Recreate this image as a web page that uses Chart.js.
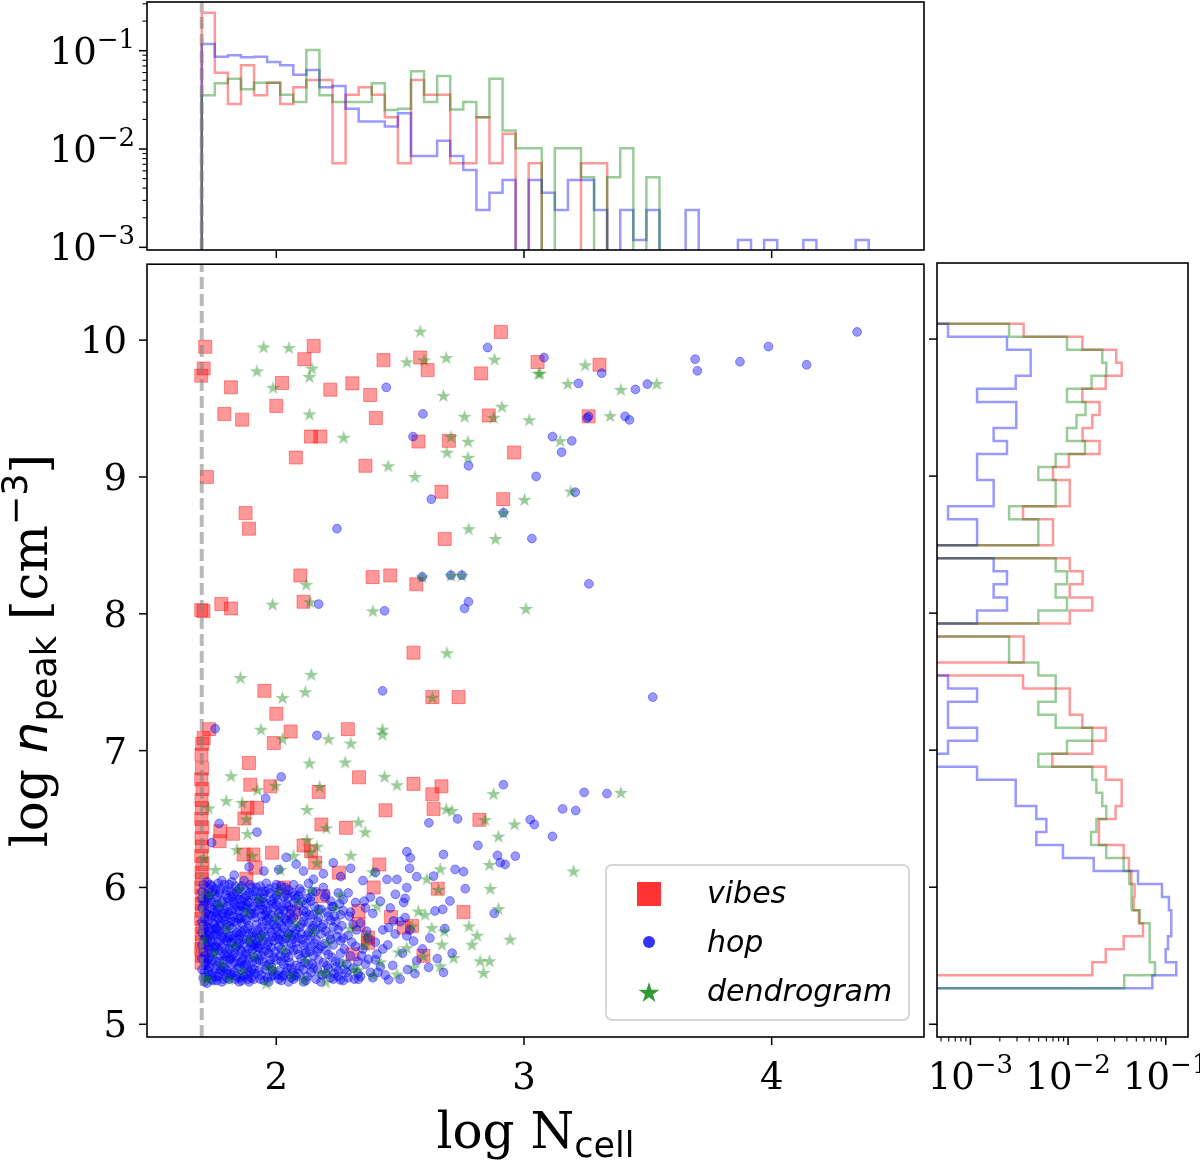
<!DOCTYPE html>
<html>
<head>
<meta charset="utf-8">
<script src="https://cdn.jsdelivr.net/npm/chart.js@4.4.1/dist/chart.umd.min.js"></script>
<style>
  body { margin: 0; background: #fff; }
  #wrap { position: relative; width: 1200px; height: 1160px; overflow: hidden; }
  canvas { position: absolute; }
</style>
</head>
<body>
<div id="wrap">
  <canvas id="topHist" width="935" height="262" style="left:0;top:0"></canvas>
  <canvas id="main" width="935" height="906" style="left:0;top:254px"></canvas>
  <canvas id="sideHist" width="272" height="906" style="left:928px;top:254px"></canvas>
</div>
<script>
/* ticks */
const xTicks = [2, 3, 4];
const yTicks = [5, 6, 7, 8, 9, 10];
const LOG_NMIN = 1.699; // log10(50), dashed line + first histogram edge

/* histogram bins */
const xBinStart = 1.699, xBinWidth = 0.0528;   // top panel, 51 bins
const yBinStart = 5.262, yBinWidth = 0.0951;   // side panel, 51 bins (from bottom)

/* top histogram heights (fraction per bin) */
const topVibes = [0.244, 0.0597, 0.0287, 0.071, 0.0352, 0.0473, 0.0287, 0.0424, 0.0503, 0.0503,
  0.00715, 0.0357, 0.0424, 0.0357, 0.021, 0.00715, 0.0503, 0.0357, 0.0357, 0.00715,
  0.00715, 0.021, 0.00715, 0.0143, 0, 0.00715, 0, 0, 0, 0.00715,
  0.00715, 0, 0, 0, 0, 0, 0, 0, 0, 0, 0, 0, 0, 0, 0, 0, 0, 0, 0, 0, 0];
const topHop = [0.117, 0.0869, 0.0897, 0.0856, 0.0869, 0.0767, 0.071, 0.057, 0.0637, 0.0424,
  0.0437, 0.0257, 0.0191, 0.0191, 0.0169, 0.0231, 0.0085, 0.0085, 0.0121, 0.0085,
  0.0061, 0.00239, 0.0036, 0.00484, 0, 0.00484, 0.0036, 0.00239, 0.00484, 0.00484,
  0.00239, 0, 0.00239, 0.00119, 0.00239, 0, 0, 0.00239, 0, 0,
  0, 0.00119, 0, 0.00119, 0, 0, 0.00119, 0, 0, 0, 0.00119];
const topDendro = [0.0352, 0.0467, 0.0519, 0.0405, 0.0473, 0.0473, 0.0357, 0.0301, 0.1017, 0.0352,
  0.0301, 0.0301, 0.0301, 0.0467, 0.0249, 0.0257, 0.0617, 0.0301, 0.0553, 0.0253,
  0.0301, 0.021, 0.0519, 0.0154, 0.0102, 0.0102, 0, 0.0102, 0.0102, 0.00515,
  0, 0.00515, 0.0102, 0, 0.00515, 0, 0, 0, 0, 0, 0, 0, 0, 0, 0, 0, 0, 0, 0, 0, 0];

/* side histogram heights, bottom bin first */
const sideVibes = [0, 0.0177, 0.0243, 0.0371, 0.0585, 0.0531, 0.0469, 0.048, 0.0444, 0.042,
  0.0371, 0.0207, 0.0207, 0.0307, 0.0354, 0.0354, 0.0243, 0.0069, 0.0177, 0.0243,
  0.014, 0.0104, 0.0104, 0.00346, 0, 0.00351, 0.00351, 0, 0.0104, 0.0177,
  0.0104, 0.0141, 0.0104, 0, 0.00701, 0.00701, 0.00346, 0.0104, 0.0104, 0.00701,
  0.0102, 0.021, 0.0141, 0.0177, 0.021, 0.014, 0.0243, 0.0354, 0.0311, 0.014, 0.00351];
const sideHop = [0.0729, 0.128, 0.0998, 0.1054, 0.114, 0.114, 0.1078, 0.0915, 0.052, 0.0183,
  0.00887, 0.00473, 0.00599, 0.00473, 0.00291, 0.00291, 0.00117, 0, 0.00059, 0.00117,
  0.00059, 0.00059, 0.00117, 0.00059, 0, 0, 0, 0, 0.00117, 0.00237,
  0.00173, 0.00237, 0.00173, 0, 0.00117, 0.00117, 0.00059, 0.00173, 0.00173, 0.00117,
  0.00117, 0.00237, 0.00173, 0.00295, 0.00295, 0.00117, 0.00291, 0.00414, 0.00414, 0.00237, 0.00059];
const sideDendro = [0.0376, 0.0776, 0.0684, 0.0684, 0.0684, 0.0541, 0.0441, 0.045, 0.0424, 0.0371,
  0.0246, 0.0172, 0.0195, 0.0246, 0.0224, 0.0195, 0.0177, 0.00496, 0.00975, 0.0177,
  0.00746, 0.00496, 0.00746, 0.00746, 0.00496, 0.00249, 0.00249, 0, 0.00496, 0.00975,
  0.00746, 0.00975, 0.00746, 0, 0.00496, 0.00496, 0.00249, 0.00746, 0.00746, 0.00496,
  0.00746, 0.0149, 0.00975, 0.0122, 0.0151, 0.00975, 0.0174, 0.0246, 0.0224, 0.00975, 0.00249];

/* scatter: [log Ncell, log npeak] */
const vibesPts = [
  [1.713,9.951],[1.707,9.793],[1.697,9.74],[2.151,9.958],[2.113,9.861],[2.433,9.854],[2.581,9.873],[2.611,9.781],
  [2.907,10.06],[2.827,9.757],[3.055,9.84],[3.305,9.82],[1.817,9.655],[2.023,9.687],[2.218,9.638],[2.307,9.684],
  [2.379,9.599],[1.79,9.46],[1.862,9.419],[2.0,9.519],[2.402,9.431],[2.858,9.45],[2.14,9.295],[2.178,9.295],
  [2.574,9.259],[2.697,9.264],[2.96,9.179],[2.079,9.142],[2.36,9.082],[1.72,8.999],[2.667,8.892],[2.916,8.838],
  [1.876,8.736],[1.89,8.622],[2.68,8.547],[2.097,8.28],[2.389,8.268],[2.46,8.28],[2.565,8.216],[1.778,8.071],
  [1.817,8.039],[1.697,8.027],[1.706,8.02],[2.11,8.088],[2.554,7.716],[3.261,9.443],
  [1.952,7.437],[2.63,7.391],[2.736,7.391],[2.0,7.269],[2.058,7.14],[1.99,7.055],[2.289,7.157],[1.729,7.157],
  [1.707,7.092],[1.89,6.91],[2.334,6.805],[1.895,6.751],[1.976,6.739],[2.171,6.698],[2.554,6.757],[2.63,6.681],
  [2.667,6.739],[1.884,6.582],[1.922,6.582],[2.441,6.564],[2.635,6.574],[2.82,6.494],[1.871,6.504],[2.182,6.46],
  [2.281,6.436],[1.774,6.411],[1.825,6.392],[1.771,6.338],[1.868,6.241],[1.908,6.241],[1.983,6.254],[2.11,6.307],
  [2.14,6.265],[2.157,6.181],[1.916,6.144],[2.253,6.108],[2.416,6.168],[1.879,6.064],[2.393,6.0],[2.652,5.991],
  [2.188,5.937],[2.756,5.82],[2.332,5.828],[2.07,5.816],[2.463,5.784],[2.332,5.731],[2.514,5.707],[2.548,5.719],
  [2.37,5.634],[2.37,5.595],[2.307,5.512],[2.594,5.5],[2.03,6.0],
  [1.698,5.45],[1.701,5.50],[1.697,5.55],[1.700,5.60],[1.698,5.66],[1.702,5.71],[1.697,5.77],[1.700,5.83],
  [1.698,5.88],[1.701,5.94],[1.697,6.00],[1.700,6.06],[1.698,6.11],[1.702,6.17],[1.697,6.23],[1.700,6.30],
  [1.698,6.36],[1.701,6.44],[1.697,6.50],[1.700,6.58],[1.698,6.64],[1.702,6.72],[1.697,6.79],[1.700,6.87],
  [1.698,6.97],[1.701,7.05]
];

const hopPts = [
  [2.853,9.946],[2.444,9.655],[2.592,9.461],[2.552,9.295],[2.776,9.082],[3.049,9.004],[2.626,8.838],[2.245,8.622],
  [3.032,8.55],[2.917,8.739],[2.171,8.071],[2.437,8.022],[2.776,8.088],[2.76,8.039],[2.589,8.27],[2.705,8.282],
  [2.749,8.282],[3.081,9.873],[3.314,9.759],[3.22,9.684],[3.45,9.64],[3.498,9.679],[3.691,9.861],[3.7,9.776],
  [3.872,9.842],[3.987,9.953],[4.141,9.82],[4.345,10.06],[3.261,9.443],[3.255,9.43],[3.408,9.443],[3.426,9.417],
  [3.115,9.295],[3.193,9.264],[3.152,9.181],[3.207,8.889],[3.262,8.219],
  [2.429,7.437],[2.917,6.751],[2.02,6.808],[1.957,6.652],[1.753,7.16],[2.164,7.111],[1.769,6.467],[1.922,6.404],
  [1.739,6.327],[2.616,6.472],[2.732,6.501],[3.025,6.496],[3.042,6.46],[2.814,6.307],[2.965,6.229],[2.893,6.234],
  [2.904,6.181],[2.924,6.168],[2.675,6.241],[2.527,6.261],[2.541,6.217],[2.756,6.115],[2.722,6.132],[2.635,6.083],
  [2.763,5.991],[2.701,5.901],[2.672,5.84],[2.641,5.828],[2.88,5.811],[2.567,6.079],[2.538,6.14],[2.487,6.059],
  [2.447,6.059],[2.481,5.95],[2.527,5.999],[2.514,5.89],[2.52,5.78],[2.473,5.755],[2.453,5.707],[2.406,5.512],
  [2.372,5.476],[2.453,5.325],[2.41,5.379],[2.332,5.33],[2.285,5.379],[2.258,5.325],[2.554,5.608],[2.527,5.646],
  [2.567,5.464],[2.615,5.416],[2.675,5.379],
  [3.52,7.391],[3.243,6.695],[3.335,6.686],[3.156,6.574],[3.209,6.562],[3.115,6.373]
];

const hopCore = [
  [1.71,5.31],[1.73,5.36],[1.70,5.40],[1.74,5.33],[1.72,5.45],[1.75,5.41],[1.71,5.50],[1.73,5.55],[1.70,5.58],[1.74,5.52],
  [1.72,5.62],[1.75,5.66],[1.71,5.70],[1.73,5.68],[1.70,5.75],[1.74,5.79],[1.72,5.83],[1.75,5.87],[1.71,5.90],[1.73,5.94],
  [1.70,5.97],[1.74,6.01],[1.72,6.04],[1.71,5.38],[1.74,5.47],[1.72,5.57],[1.75,5.73],[1.70,5.85],[1.73,5.80],[1.71,5.63],
  [1.75,5.35],[1.72,5.91],[1.74,5.60],[1.70,5.48],[1.73,5.42],[1.75,5.95],[1.71,5.77],[1.72,5.30],[1.74,5.89],[1.70,5.67],
  [1.73,5.99],[1.75,5.53],[1.71,5.44],[1.72,5.71],[1.74,5.37],[1.70,5.92],[1.73,5.65],[1.75,5.82],
  [1.76,5.32],[1.78,5.39],[1.80,5.34],[1.77,5.46],[1.79,5.51],[1.76,5.56],[1.80,5.61],[1.78,5.64],[1.77,5.72],[1.79,5.76],
  [1.76,5.81],[1.80,5.86],[1.78,5.90],[1.77,5.96],[1.79,6.02],[1.76,5.43],[1.80,5.49],[1.78,5.57],[1.77,5.68],[1.79,5.84],
  [1.76,5.93],[1.80,5.73],[1.78,5.31],[1.77,5.37],[1.79,5.41],[1.76,5.66],[1.80,5.98],[1.78,5.78],[1.77,5.54],[1.79,5.63],
  [1.76,5.88],[1.80,5.40],[1.78,6.05],[1.77,5.85],[1.79,5.47],[1.76,5.70],
  [1.81,5.33],[1.83,5.38],[1.85,5.31],[1.82,5.44],[1.84,5.49],[1.81,5.55],[1.85,5.59],[1.83,5.63],[1.82,5.70],[1.84,5.74],
  [1.81,5.80],[1.85,5.83],[1.83,5.88],[1.82,5.93],[1.84,5.97],[1.81,6.02],[1.85,5.42],[1.83,5.52],[1.82,5.60],[1.84,5.67],
  [1.81,5.72],[1.85,5.77],[1.83,5.95],[1.82,5.36],[1.84,5.86],[1.81,5.47],[1.85,5.65],[1.83,5.75],[1.82,5.83],[1.84,5.35],
  [1.81,5.90],[1.85,5.99],[1.83,5.45],[1.82,6.04],[1.84,5.57],[1.81,5.64],[1.85,5.91],
  [1.86,5.32],[1.88,5.37],[1.90,5.34],[1.87,5.43],[1.89,5.48],[1.86,5.53],[1.90,5.57],[1.88,5.62],[1.87,5.69],[1.89,5.72],
  [1.86,5.78],[1.90,5.84],[1.88,5.87],[1.87,5.92],[1.89,5.96],[1.86,6.01],[1.90,5.40],[1.88,5.51],[1.87,5.59],[1.89,5.66],
  [1.86,5.74],[1.90,5.80],[1.88,5.94],[1.87,5.35],[1.89,5.89],[1.86,5.46],[1.90,5.64],[1.88,5.76],[1.87,5.82],[1.89,5.31],
  [1.86,5.91],[1.90,6.00],[1.88,5.44],[1.87,6.05],[1.89,5.55],[1.86,5.67],
  [1.91,5.33],[1.93,5.39],[1.95,5.32],[1.92,5.45],[1.94,5.50],[1.96,5.54],[1.91,5.58],[1.93,5.63],[1.95,5.68],[1.92,5.73],
  [1.94,5.79],[1.96,5.82],[1.91,5.86],[1.93,5.91],[1.95,5.95],[1.92,6.00],[1.94,5.36],[1.96,5.43],[1.91,5.49],[1.93,5.56],
  [1.95,5.61],[1.92,5.66],[1.94,5.71],[1.96,5.76],[1.91,5.81],[1.93,5.84],[1.95,5.89],[1.92,5.93],[1.94,5.97],[1.96,6.03],
  [1.91,5.40],[1.93,5.47],[1.95,5.53],[1.92,5.59],[1.94,5.65],[1.96,5.88],
  [1.97,5.31],[1.99,5.36],[2.01,5.33],[1.98,5.42],[2.00,5.47],[1.97,5.52],[2.01,5.57],[1.99,5.61],[1.98,5.67],[2.00,5.71],
  [1.97,5.77],[2.01,5.81],[1.99,5.85],[1.98,5.90],[2.00,5.94],[1.97,5.99],[2.01,5.39],[1.99,5.49],[1.98,5.56],[2.00,5.64],
  [1.97,5.70],[2.01,5.75],[1.99,5.92],[1.98,5.35],[2.00,5.87],[1.97,5.44],[2.01,5.62],[1.99,5.73],[1.98,5.80],[2.00,6.02],
  [1.97,5.60],[2.01,5.97],
  [2.02,5.32],[2.04,5.38],[2.06,5.34],[2.03,5.44],[2.05,5.49],[2.02,5.55],[2.06,5.59],[2.04,5.63],[2.03,5.70],[2.05,5.74],
  [2.02,5.79],[2.06,5.84],[2.04,5.88],[2.03,5.93],[2.05,5.98],[2.02,6.01],[2.06,5.41],[2.04,5.52],[2.03,5.60],[2.05,5.66],
  [2.02,5.72],[2.06,5.77],[2.04,5.95],[2.03,5.36],[2.05,5.86],[2.02,5.46],[2.06,5.65],[2.04,5.76],[2.03,5.83],[2.05,5.31],
  [2.07,5.33],[2.09,5.37],[2.11,5.31],[2.08,5.43],[2.10,5.48],[2.07,5.54],[2.11,5.58],[2.09,5.63],[2.08,5.69],[2.10,5.73],
  [2.07,5.78],[2.11,5.83],[2.09,5.87],[2.08,5.92],[2.10,5.97],[2.07,6.02],[2.11,5.40],[2.09,5.51],[2.08,5.60],[2.10,5.66],
  [2.07,5.89],[2.11,5.75],[2.09,5.94],[2.08,5.35],
  [2.12,5.32],[2.14,5.38],[2.16,5.33],[2.13,5.44],[2.15,5.50],[2.17,5.55],[2.12,5.59],[2.14,5.64],[2.16,5.69],[2.13,5.74],
  [2.15,5.80],[2.17,5.84],[2.12,5.88],[2.14,5.93],[2.16,5.97],[2.13,6.03],[2.15,5.41],[2.17,5.47],[2.12,5.52],[2.14,5.57],
  [2.16,5.62],[2.13,5.67],[2.15,5.72],[2.17,5.78],[2.12,5.82],[2.14,5.90],
  [2.18,5.31],[2.20,5.37],[2.22,5.34],[2.19,5.45],[2.21,5.51],[2.18,5.57],[2.22,5.62],[2.20,5.68],[2.19,5.73],[2.21,5.79],
  [2.18,5.84],[2.22,5.90],[2.20,5.95],[2.19,6.00],[2.21,5.41],[2.18,5.66],[2.22,5.76],[2.20,5.54],
  [2.23,5.33],[2.25,5.39],[2.27,5.32],[2.24,5.46],[2.26,5.52],[2.23,5.58],[2.27,5.63],[2.25,5.69],[2.24,5.75],[2.26,5.80],
  [2.23,5.86],[2.27,5.91],[2.25,5.96],[2.24,5.42],[2.26,5.61],[2.23,5.71],[2.27,5.83],[2.25,5.35],
  [2.29,5.34],[2.31,5.41],[2.33,5.37],[2.30,5.50],[2.32,5.57],[2.29,5.65],[2.31,5.73],[2.30,5.82],[2.32,5.89],[2.29,5.96],
  [2.33,5.46],[2.34,5.35],[2.36,5.44],[2.38,5.38],[2.35,5.55],[2.37,5.63],[2.34,5.74],[2.36,5.85],[2.38,5.93],
  [2.39,5.34],[2.42,5.42],[2.40,5.60],[2.43,5.69],[2.39,5.81],[2.42,5.90],[2.40,5.47],[2.43,5.55],
  [2.44,5.36],[2.47,5.43],[2.45,5.58],[2.48,5.66],[2.46,5.85],[2.50,5.33],[2.53,5.40],[2.51,5.52],[2.54,5.69],[2.50,5.75],
  [2.52,5.92],[2.56,5.37],[2.59,5.55],[2.62,5.63],[2.65,5.48],[2.68,5.70],[2.71,5.52],
  [2.04,6.22],[2.08,6.17],[2.11,6.12],[2.01,6.13],[2.19,6.10],[2.26,6.08],[1.89,6.15],[1.95,6.12],[2.15,6.06],[2.35,6.05],
  [2.40,6.11],[2.30,6.14],[1.83,6.09],[2.23,6.18]
];

const hopCore2 = [
  [1.705,5.34],[1.725,5.39],[1.745,5.32],[1.715,5.43],[1.735,5.49],[1.755,5.46],[1.705,5.53],[1.725,5.59],[1.745,5.56],[1.715,5.64],
  [1.735,5.61],[1.755,5.70],[1.705,5.72],[1.725,5.76],[1.745,5.74],[1.715,5.81],[1.735,5.85],[1.755,5.79],[1.705,5.88],[1.725,5.92],
  [1.745,5.97],[1.715,5.95],[1.735,6.02],[1.755,5.99],[1.705,6.02],[1.725,5.48],[1.745,5.65],[1.715,5.35],[1.735,5.70],[1.755,5.57],
  [1.765,5.35],[1.785,5.42],[1.805,5.37],[1.775,5.50],[1.795,5.55],[1.765,5.60],[1.785,5.67],[1.805,5.63],[1.775,5.74],[1.795,5.79],
  [1.765,5.84],[1.785,5.89],[1.805,5.92],[1.775,5.99],[1.795,5.95],[1.765,6.03],[1.785,5.33],[1.805,5.52],[1.775,5.40],[1.795,5.69],
  [1.765,5.77],[1.785,5.81],[1.805,5.82],[1.775,5.61],
  [1.815,5.37],[1.835,5.33],[1.855,5.45],[1.825,5.50],[1.845,5.41],[1.815,5.59],[1.835,5.56],[1.855,5.68],[1.825,5.65],[1.845,5.78],
  [1.815,5.75],[1.835,5.84],[1.855,5.87],[1.825,5.90],[1.845,5.94],[1.815,5.97],[1.835,6.01],[1.855,5.55],[1.825,5.79],[1.845,5.62],
  [1.815,5.48],[1.855,5.34],
  [1.865,5.36],[1.885,5.41],[1.905,5.46],[1.875,5.52],[1.895,5.60],[1.865,5.62],[1.885,5.70],[1.905,5.67],[1.875,5.77],[1.895,5.81],
  [1.865,5.86],[1.885,5.90],[1.905,5.94],[1.875,5.98],[1.895,6.02],[1.865,5.48],[1.885,5.33],[1.905,5.55],[1.875,5.85],[1.895,5.38],
  [1.915,5.37],[1.935,5.33],[1.955,5.40],[1.925,5.51],[1.945,5.46],[1.915,5.62],[1.935,5.58],[1.955,5.64],[1.925,5.69],[1.945,5.75],
  [1.915,5.78],[1.935,5.87],[1.955,5.80],[1.925,5.89],[1.945,5.92],[1.915,5.97],[1.935,6.01],[1.955,5.97],[1.925,5.56],[1.945,5.84],
  [1.965,5.34],[1.985,5.39],[2.005,5.36],[1.975,5.47],[1.995,5.53],[2.015,5.50],[1.965,5.58],[1.985,5.64],[2.005,5.68],[1.975,5.73],
  [1.995,5.78],[2.015,5.84],[1.965,5.83],[1.985,5.88],[2.005,5.91],[1.975,5.96],[1.995,6.00],[2.015,5.66],
  [2.025,5.35],[2.045,5.41],[2.065,5.38],[2.035,5.49],[2.055,5.55],[2.025,5.62],[2.045,5.67],[2.065,5.71],[2.035,5.77],[2.055,5.81],
  [2.025,5.86],[2.045,5.92],[2.065,5.96],[2.035,6.00],[2.055,5.45],[2.065,5.62],
  [2.075,5.36],[2.095,5.42],[2.115,5.45],[2.085,5.55],[2.105,5.62],[2.075,5.66],[2.095,5.71],[2.115,5.79],[2.085,5.82],[2.105,5.90],
  [2.075,5.94],[2.095,5.99],[2.115,5.52],
  [2.125,5.35],[2.145,5.44],[2.165,5.40],[2.135,5.53],[2.155,5.59],[2.125,5.65],[2.145,5.70],[2.165,5.75],[2.135,5.80],[2.155,5.86],
  [2.125,5.92],[2.145,5.97],[2.165,5.53],
  [2.185,5.36],[2.205,5.43],[2.225,5.49],[2.195,5.59],[2.215,5.65],[2.185,5.71],[2.205,5.82],[2.225,5.86],[2.195,5.93],
  [2.235,5.37],[2.255,5.45],[2.275,5.55],[2.245,5.64],[2.265,5.72],[2.235,5.79],[2.255,5.88],[2.275,5.40],
  [2.285,5.44],[2.305,5.60],[2.325,5.69],[2.295,5.79],[2.315,5.33],[2.345,5.50],[2.365,5.68],[2.355,5.90]
];

const dendroPts = [
  [1.949,9.951],[2.051,9.946],[1.922,9.776],[2.144,9.796],[2.134,9.735],[1.987,9.655],[2.581,10.066],[2.527,9.842],
  [2.597,9.856],[2.686,9.873],[2.881,9.861],[3.059,9.757],[2.134,9.461],[2.675,9.596],[2.911,9.516],[2.76,9.443],
  [2.877,9.436],[3.021,9.419],[2.272,9.29],[2.705,9.295],[2.774,9.261],[2.689,9.181],[2.774,9.144],[2.452,9.082],
  [2.56,9.004],[3.002,8.836],[2.917,8.739],[2.777,8.622],[2.885,8.55],[2.589,8.27],[2.705,8.282],[2.749,8.282],
  [2.121,8.216],[1.985,8.071],[2.137,8.088],[2.39,8.022],[3.008,8.039],[2.689,7.716],
  [3.065,9.759],[3.247,9.82],[3.177,9.684],[3.391,9.64],[3.536,9.684],[3.348,9.448],[3.146,9.266],[3.189,8.897],
  [1.855,7.534],[2.141,7.558],[2.117,7.431],[2.025,7.388],[2.63,7.39],[1.938,7.157],[2.025,7.087],[2.429,7.157],
  [2.429,7.12],[2.211,7.087],[2.301,7.055],[2.134,6.91],[2.278,6.917],[1.817,6.817],[1.996,6.747],[2.175,6.739],
  [2.437,6.812],[2.487,6.751],[1.924,6.715],[1.798,6.635],[1.862,6.622],[1.727,6.582],[2.124,6.57],[1.879,6.501],
  [2.686,6.574],[2.709,6.562],[2.877,6.686],[2.843,6.496],[2.962,6.465],[2.332,6.48],[2.359,6.407],[2.202,6.436],
  [1.884,6.394],[2.897,6.375],[2.124,6.35],[2.164,6.302],[1.841,6.278],[2.07,6.234],[2.301,6.236],[2.137,6.261],
  [1.902,6.234],[1.707,6.217],[2.164,6.181],[2.016,6.132],[2.861,6.168],[2.662,6.137],[2.39,6.115],[2.608,6.064],
  [1.754,6.132],[2.864,5.993],[2.655,5.986],[2.897,5.846],[2.574,5.828],[2.601,5.804],[2.406,5.864],[2.548,5.719],
  [2.778,5.719],[2.811,5.651],[2.628,5.707],[2.678,5.682],[2.944,5.622],[2.366,5.646],[2.669,5.585],[2.79,5.585],
  [2.527,5.561],[2.494,5.529],[2.716,5.488],[2.861,5.464],[2.823,5.464],[2.662,5.427],[2.554,5.416],[2.837,5.379],
  [2.42,5.457],[2.487,5.367],[2.594,5.5],[2.312,5.403],[2.205,5.379],[1.989,5.403],[1.72,5.33],
  [3.391,6.695],[3.2,6.12]
];

const dendroCore = [
  [1.72,5.34],[1.75,5.52],[1.78,5.44],[1.80,5.70],[1.83,5.58],[1.86,5.39],[1.88,5.82],[1.91,5.50],[1.94,5.64],[1.97,5.42],
  [2.00,5.78],[2.03,5.55],[2.06,5.36],[2.09,5.90],[2.12,5.47],[2.15,5.68],[2.18,5.38],[2.21,5.60],[2.24,5.85],[2.27,5.45],
  [2.30,5.70],[2.33,5.40],[2.36,5.58],[1.73,5.95],[1.77,5.88],[1.85,5.99],[1.93,5.92],[2.01,5.97],[2.08,5.74],[2.17,5.83],
  [2.26,5.95],[1.71,5.62],[1.81,5.33],[1.96,5.30],[2.11,5.33],[2.20,5.31],[2.39,5.36],[1.89,5.62],[2.05,5.65],[2.14,5.98]
];

/* axis ranges */
const X_MIN = 1.478, X_MAX = 4.615, Y_MIN = 4.907, Y_MAX = 10.555;
const TOP_MIN = 9.39e-4, TOP_MAX = 0.313, SIDE_MIN = 4.55e-4, SIDE_MAX = 0.169;

const SERIF = '"DejaVu Serif", "Liberation Serif", serif';
const SANS = '"DejaVu Sans", "Liberation Sans", sans-serif';
const RED = 'rgba(255,0,0,0.4)', BLUE = 'rgba(0,0,255,0.4)', GREEN = 'rgba(0,128,0,0.4)';
const CUT = 'rgba(128,128,128,0.55)';

function toXY(arr) { return arr.map(([x, y]) => ({ x, y })); }

function makeStar(color, r) {
  const c = document.createElement('canvas');
  const s = Math.ceil(r * 2 + 2);
  c.width = c.height = s;
  const g = c.getContext('2d');
  g.fillStyle = color;
  g.beginPath();
  for (let i = 0; i < 10; i++) {
    const rr = i % 2 ? r * 0.382 : r;
    const a = -Math.PI / 2 + i * Math.PI / 5;
    g.lineTo(s / 2 + rr * Math.cos(a), s / 2 + rr * Math.sin(a) + r * 0.1);
  }
  g.closePath();
  g.fill();
  return c;
}
const starImg = makeStar(GREEN, 7.5);
const legendStar = makeStar('rgba(0,128,0,0.8)', 11);

// step outline like histtype='step'
function stepV(vals, floor) {
  const pts = [{ x: xBinStart, y: floor }];
  vals.forEach((v, k) => {
    const h = v > 0 ? v : floor;
    pts.push({ x: xBinStart + k * xBinWidth, y: h }, { x: xBinStart + (k + 1) * xBinWidth, y: h });
  });
  pts.push({ x: xBinStart + vals.length * xBinWidth, y: floor });
  return pts;
}
function stepH(vals, floor) {
  const pts = [{ x: floor, y: yBinStart }];
  vals.forEach((v, k) => {
    const h = v > 0 ? v : floor;
    pts.push({ x: h, y: yBinStart + k * yBinWidth }, { x: h, y: yBinStart + (k + 1) * yBinWidth });
  });
  pts.push({ x: floor, y: yBinStart + vals.length * yBinWidth });
  return pts;
}

function runs(ctx, parts, x, y, align) {
  let w = 0;
  parts.forEach(p => { ctx.font = p.font; p.w = ctx.measureText(p.t).width; w += p.w; });
  let cx = align === 'center' ? x - w / 2 : align === 'right' ? x - w : x;
  ctx.textAlign = 'left';
  ctx.textBaseline = 'alphabetic';
  parts.forEach(p => { ctx.font = p.font; ctx.fillText(p.t, cx, y + (p.dy || 0)); cx += p.w; });
}
function pow10Label(exp) {
  return [{ t: '10', font: `37px ${SERIF}` }, { t: '\u2212' + Math.abs(exp), font: `26px ${SERIF}`, dy: -16 }];
}
function logTicks(min, max) {
  const out = [];
  for (let d = -5; d <= 1; d++) for (let m = 1; m <= 9; m++) {
    const v = m * Math.pow(10, d);
    if (v >= min && v <= max) out.push({ v, major: m === 1, exp: d });
  }
  return out;
}
function seg(ctx, x1, y1, x2, y2) { ctx.beginPath(); ctx.moveTo(x1, y1); ctx.lineTo(x2, y2); ctx.stroke(); }
function frame(ctx, a) {
  ctx.strokeStyle = '#000';
  ctx.lineWidth = 1.6;
  ctx.strokeRect(a.left, a.top, a.right - a.left, a.bottom - a.top);
}

const baseOpts = (padding, xs, ys) => ({
  responsive: false, animation: false, events: [],
  layout: { padding },
  plugins: { legend: { display: false }, tooltip: { enabled: false } },
  scales: { x: Object.assign({ display: false }, xs), y: Object.assign({ display: false }, ys) }
});
const histLine = (data, color) => ({ data, showLine: true, borderColor: color, borderWidth: 2.5, pointRadius: 0, tension: 0, fill: false });

/* TOP HISTOGRAM */
new Chart(document.getElementById('topHist'), {
  type: 'scatter',
  data: { datasets: [
    Object.assign(histLine(stepV(topVibes, 1e-6), RED), { label: 'vibes', order: 3 }),
    Object.assign(histLine(stepV(topHop, 1e-6), BLUE), { label: 'hop', order: 2 }),
    Object.assign(histLine(stepV(topDendro, 1e-6), GREEN), { label: 'dendrogram', order: 1 }),
    { label: 'cut', data: [{ x: LOG_NMIN, y: TOP_MIN }, { x: LOG_NMIN, y: TOP_MAX }], showLine: true,
      borderColor: CUT, borderDash: [12, 5], borderWidth: 4, pointRadius: 0, order: 0 }
  ] },
  options: baseOpts({ left: 147, right: 11, top: 2, bottom: 12 },
    { type: 'linear', min: X_MIN, max: X_MAX },
    { type: 'logarithmic', min: TOP_MIN, max: TOP_MAX }),
  plugins: [{
    id: 'topAxes',
    afterDraw(chart) {
      const { ctx, chartArea: a, scales: { x, y } } = chart;
      ctx.save();
      frame(ctx, a);
      ctx.lineWidth = 1.5;
      xTicks.forEach(v => { const px = x.getPixelForValue(v); seg(ctx, px, a.bottom, px, a.bottom + 8); });
      logTicks(TOP_MIN, TOP_MAX).forEach(t => {
        const py = y.getPixelForValue(t.v);
        ctx.lineWidth = t.major ? 1.5 : 1.1;
        seg(ctx, a.left - (t.major ? 8 : 4.5), py, a.left, py);
        if (t.major) { ctx.fillStyle = '#000'; runs(ctx, pow10Label(t.exp), a.left - 12, py + 13, 'right'); }
      });
      ctx.restore();
    }
  }]
});

/* MAIN SCATTER */
new Chart(document.getElementById('main'), {
  type: 'scatter',
  data: { datasets: [
    { label: 'cut', data: [{ x: LOG_NMIN, y: Y_MIN }, { x: LOG_NMIN, y: Y_MAX }], showLine: true,
      borderColor: CUT, borderDash: [12, 5], borderWidth: 4, pointRadius: 0, order: 0 },
    { label: 'dendrogram', data: toXY(dendroPts.concat(dendroCore)), pointStyle: starImg, pointRadius: 7.5, order: 1 },
    { label: 'hop', data: toXY(hopPts.concat(hopCore, hopCore2)), pointStyle: 'circle', pointRadius: 4.4,
      backgroundColor: BLUE, borderColor: BLUE, borderWidth: 1, order: 2 },
    { label: 'vibes', data: toXY(vibesPts), pointStyle: 'rect', pointRadius: 9.2,
      backgroundColor: RED, borderColor: RED, borderWidth: 1, order: 3 }
  ] },
  options: baseOpts({ left: 147, right: 11, top: 9, bottom: 123 },
    { type: 'linear', min: X_MIN, max: X_MAX },
    { type: 'linear', min: Y_MIN, max: Y_MAX }),
  plugins: [{
    id: 'mainAxes',
    afterDraw(chart) {
      const { ctx, chartArea: a, scales: { x, y } } = chart;
      ctx.save();
      frame(ctx, a);
      ctx.lineWidth = 1.5;
      ctx.fillStyle = '#000';
      xTicks.forEach(v => {
        const px = x.getPixelForValue(v);
        seg(ctx, px, a.bottom, px, a.bottom + 8);
        runs(ctx, [{ t: String(v), font: `37px ${SERIF}` }], px, a.bottom + 52, 'center');
      });
      yTicks.forEach(v => {
        const py = y.getPixelForValue(v);
        seg(ctx, a.left - 8, py, a.left, py);
        runs(ctx, [{ t: String(v), font: `37px ${SERIF}` }], a.left - 20, py + 13, 'right');
      });
      runs(ctx, [{ t: 'log N', font: `50px ${SERIF}` }, { t: 'cell', font: `35px ${SANS}`, dy: 9 }],
        (a.left + a.right) / 2, a.bottom + 111, 'center');
      ctx.save();
      ctx.translate(47, (a.top + a.bottom) / 2);
      ctx.rotate(-Math.PI / 2);
      runs(ctx, [
        { t: 'log ', font: `50px ${SERIF}` },
        { t: 'n', font: `italic 50px ${SANS}` },
        { t: 'peak', font: `35px ${SANS}`, dy: 9 },
        { t: ' [cm', font: `50px ${SERIF}` },
        { t: '\u22123', font: `35px ${SANS}`, dy: -20 },
        { t: ']', font: `50px ${SERIF}` }
      ], 0, 0, 'center');
      ctx.restore();

      // legend
      const bx = a.right - 318, by = a.bottom - 172, bw = 303, bh = 155;
      ctx.beginPath();
      ctx.roundRect(bx, by, bw, bh, 6);
      ctx.fillStyle = 'rgba(255,255,255,0.8)';
      ctx.fill();
      ctx.strokeStyle = '#d6d6d6';
      ctx.lineWidth = 2;
      ctx.stroke();
      const mx = bx + 43, tx = bx + 101;
      ctx.fillStyle = 'rgba(255,0,0,0.8)';
      ctx.fillRect(mx - 12, by + 17, 24, 24);
      ctx.fillStyle = 'rgba(0,0,255,0.8)';
      ctx.beginPath(); ctx.arc(mx, by + 77, 6, 0, Math.PI * 2); ctx.fill();
      ctx.drawImage(legendStar, mx - legendStar.width / 2, by + 127 - legendStar.height / 2);
      ctx.fillStyle = '#000';
      ['vibes', 'hop', 'dendrogram'].forEach((lab, i) => {
        runs(ctx, [{ t: lab, font: `italic 30px ${SANS}` }], tx, by + 38 + i * 49, 'left');
      });
      ctx.restore();
    }
  }]
});

/* SIDE HISTOGRAM */
new Chart(document.getElementById('sideHist'), {
  type: 'scatter',
  data: { datasets: [
    Object.assign(histLine(stepH(sideVibes, 1e-7), RED), { label: 'vibes', order: 3 }),
    Object.assign(histLine(stepH(sideHop, 1e-7), BLUE), { label: 'hop', order: 2 }),
    Object.assign(histLine(stepH(sideDendro, 1e-7), GREEN), { label: 'dendrogram', order: 1 })
  ] },
  options: baseOpts({ left: 9, right: 12, top: 9, bottom: 123 },
    { type: 'logarithmic', min: SIDE_MIN, max: SIDE_MAX },
    { type: 'linear', min: Y_MIN, max: Y_MAX }),
  plugins: [{
    id: 'sideAxes',
    afterDraw(chart) {
      const { ctx, chartArea: a, scales: { x, y } } = chart;
      ctx.save();
      frame(ctx, a);
      ctx.lineWidth = 1.5;
      yTicks.forEach(v => { const py = y.getPixelForValue(v); seg(ctx, a.left - 8, py, a.left, py); });
      ctx.fillStyle = '#000';
      logTicks(SIDE_MIN, SIDE_MAX).forEach(t => {
        const px = x.getPixelForValue(t.v);
        ctx.lineWidth = t.major ? 1.5 : 1.1;
        seg(ctx, px, a.bottom, px, a.bottom + (t.major ? 8 : 4.5));
        if (t.major) runs(ctx, pow10Label(t.exp), px, a.bottom + 52, 'center');
      });
      ctx.restore();
    }
  }]
});
</script>
</body>
</html>
